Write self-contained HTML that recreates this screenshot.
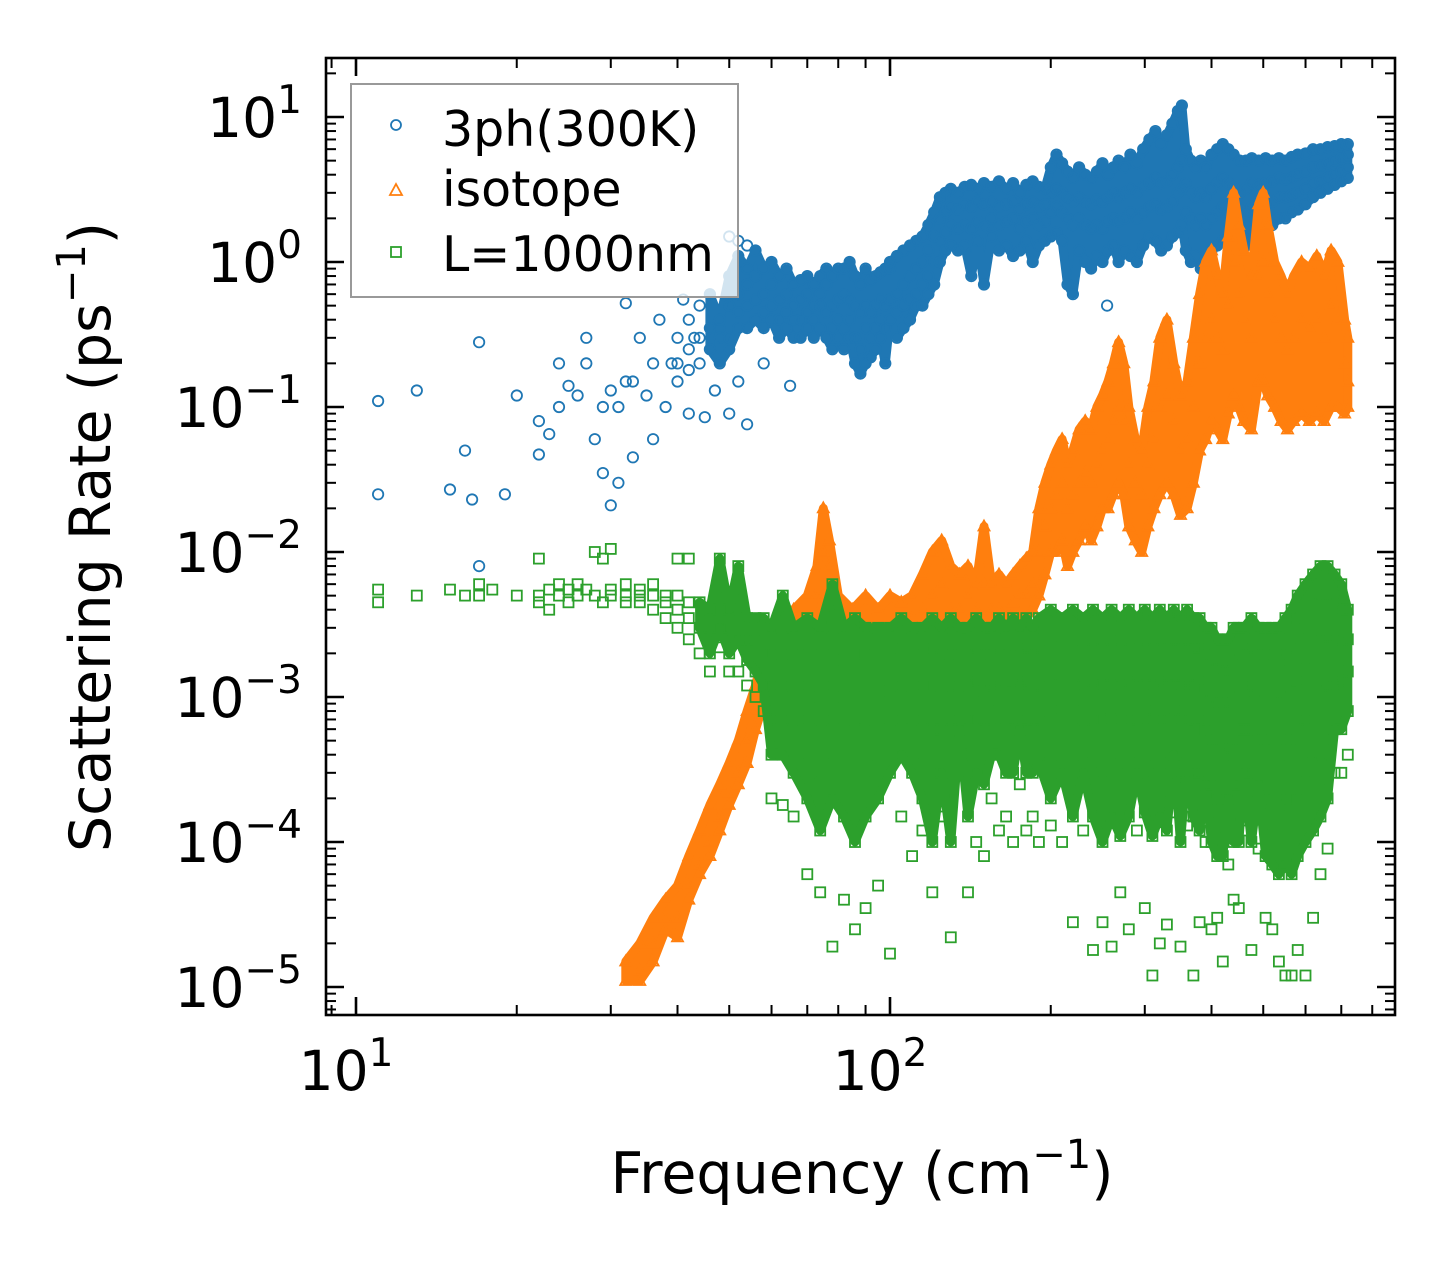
<!DOCTYPE html>
<html><head><meta charset="utf-8"><style>
html,body{margin:0;padding:0;background:#fff;}
svg{display:block;font-family:"DejaVu Sans","Liberation Sans",sans-serif;}
</style></head><body>
<svg id="chart" width="1455" height="1265" viewBox="0 0 1455 1265" xmlns="http://www.w3.org/2000/svg">
<rect x="0" y="0" width="1455" height="1265" fill="#fff"/>
<defs><clipPath id="plotclip"><rect x="326" y="58" width="1069" height="957"/></clipPath></defs>
<g id="marks" clip-path="url(#plotclip)"></g>
<g id="axes"></g>
<g id="legend">
<rect x="351" y="84" width="387" height="213" fill="#fff" fill-opacity="0.8" stroke="#999" stroke-width="2"/>
<circle cx="396" cy="125" r="5" fill="none" stroke="#1f77b4" stroke-width="1.8"/>
<text x="442" y="146" font-size="49" fill="#000">3ph(300K)</text>
<path d="M396,184 L402,195 L390,195 Z" fill="none" stroke="#ff7f0e" stroke-width="1.8"/>
<text x="442" y="206" font-size="49" fill="#000">isotope</text>
<rect x="391" y="247" width="10" height="10" fill="none" stroke="#2ca02c" stroke-width="1.8"/>
<text x="442" y="271" font-size="49" fill="#000">L=1000nm</text>
</g>
<text x="862" y="1193" font-size="57" text-anchor="middle">Frequency (cm<tspan font-size="40" dy="-25">−1</tspan><tspan dy="25">)</tspan></text>
<text transform="translate(110,537) rotate(-90)" font-size="57" text-anchor="middle">Scattering Rate (ps<tspan font-size="40" dy="-25">−1</tspan><tspan dy="25">)</tspan></text>
</svg>
<script>
const PL=326, PR=1395, PT=58, PB=1015;
const xDecPx=534, x10=356;
const yDecPx=145, y1=262;
function xs(f){return x10+(Math.log10(f)-1)*xDecPx;}
function ys(r){return y1-Math.log10(r)*yDecPx;}

const threePhSparse=[[11,0.11,0.025],[13,0.13],[15,0.027],[16,0.05],[16.5,0.023],[17,0.28,0.008],[19,0.025],[20,0.12],[22,0.08,0.047],[23,0.065],[24,0.2,0.1],[25,0.14],[26,0.12],[27,0.3,0.2],[28,0.06],[29,0.035,0.1],[30,0.13,0.021],[31,0.03,0.1],[32,0.52,0.15],[33,0.045,0.15],[34,0.3],[35,0.12],[36,0.06,0.2],[37,0.4],[38,0.1],[39,0.2],[41,0.55],[42,0.09],[43,0.3],[45,0.085],[47,0.13],[48,0.35],[50,0.09,1.5],[52,0.15,1.4],[54,0.076,1.3],[58,0.2],[65,0.14],[255,0.5]];
const threePhDense=[[40,.2,.3,.15],[42,.25,.4,.18],[44,.3,.2,.5],[46,.35,.25,.6],[48,.4,.3,.2],[50,.5,.3,.8,.25],[52,.45,.6,.35,1.1],[54,.5,.7,.35,.9],[56,.55,.4,.8,1.2],[58,.6,.45,.35,.9],[60,.5,.7,.4,1.0],[62,.55,.8,.4,.3],[64,.6,.45,.9,.35],[66,.5,.7,.4,.3],[68,.55,.75,.4,.3],[70,.45,.6,.35,.8],[72,.5,.7,.4,.3],[74,.5,.8,.35,.6],[76,.45,.7,.3,.9],[78,.5,.8,.35,.25],[80,.55,.9,.4,.3],[82,.6,.9,.35,.25],[84,.55,1.0,.4,.3],[86,.5,.8,.3,.2],[88,.45,.7,.25,.17],[90,.5,.9,.35,.2],[92,.45,.75,.3,.22],[94,.5,.8,.35,.25],[96,.55,.85,.4,.3],[98,.5,.9,.35,.2],[100,.55,.9,.4,1.0],[103,.6,1.1,.45,.3],[106,.7,1.2,.5,.35],[109,.8,1.3,.55,.4],[112,.9,1.4,.6,.5],[115,1.0,1.5,.7,.5],[118,1.2,1.8,.8,.6],[121,1.5,2.2,1.0,.7],[124,2.0,2.8,1.4,1.0],[127,2.2,3.0,1.6,1.2],[130,2.4,3.2,1.8,1.3],[134,2.3,3.0,1.7,1.2],[138,2.5,3.3,1.8,1.3],[142,2.4,3.4,1.7,0.8],[146,2.6,3.2,1.9,1.4],[150,2.5,3.5,1.8,0.7],[155,2.6,3.3,2.0,1.5],[160,2.4,3.6,1.8,1.2],[165,2.5,3.2,1.9,1.3],[170,2.6,3.5,2.0,1.1],[175,2.3,3.0,1.7,1.2],[180,2.5,3.4,1.9,1.4],[185,2.6,3.6,2.0,1.0],[190,2.4,3.3,1.8,1.3],[195,2.5,3.2,1.9,1.4],[200,3.0,4.5,2.2,1.5],[205,3.2,5.5,2.4,1.6],[210,3.0,4.8,2.2,1.4],[215,2.8,4.2,2.0,0.7],[220,2.6,3.8,1.8,0.6],[226,2.8,4.5,2.0,1.2],[232,2.6,4.0,1.8,1.0],[238,2.5,3.8,1.7,0.9],[244,2.7,4.2,1.8,1.1],[250,2.6,4.8,1.7,1.0],[256,2.8,4.0,1.9,1.2],[262,3.0,4.5,2.0,1.3],[268,2.8,5.0,1.9,1.0],[275,3.0,4.5,2.0,1.2],[282,3.2,5.5,2.2,1.1],[290,3.0,4.8,2.0,1.0],[298,3.3,6.0,2.2,1.3],[306,3.5,7.0,2.4,1.5],[314,3.8,8.0,2.5,1.4],[322,3.5,6.5,2.3,1.2],[330,3.6,7.5,2.4,1.3],[338,4.0,9.0,2.6,1.5],[346,4.5,11.0,3.0,1.6],[352,5.0,12.0,3.2,1.8],[358,3.5,6.0,2.2,1.2],[366,3.0,5.0,2.0,1.0],[374,2.8,4.5,1.8,1.1],[382,3.0,5.0,2.0,0.9],[390,2.8,4.5,1.8,1.0],[400,3.2,5.5,2.0,1.2],[410,3.5,6.0,2.2,1.3],[420,3.8,6.5,2.4,1.4],[430,3.5,6.0,2.2,1.3],[440,3.3,5.5,2.0,1.2],[452,3.0,5.0,2.0,1.1],[464,3.2,5.0,2.2,1.3],[476,3.5,5.2,2.4,1.5],[490,3.4,5.0,2.3,1.4],[505,3.5,5.2,2.5,1.6],[520,3.6,5.0,2.6,1.8],[535,3.8,5.2,2.8,2.0],[550,3.7,5.0,2.8,2.0],[565,3.8,5.3,2.9,2.2],[580,4.0,5.5,3.0,2.3],[600,4.2,5.6,3.2,2.5],[620,4.5,6.0,3.5,2.8],[640,4.6,6.0,3.6,3.0],[660,4.8,6.2,3.8,3.2],[680,5.0,6.3,4.0,3.4],[700,5.2,6.5,4.2,3.6],[720,5.5,6.5,4.5,3.8]];
const isotopeCols=[[32,1.1e-5,1.5e-5],[34,1.3e-5,2e-5,1.1e-5],[36,2e-5,1.5e-5,3e-5],[38,2.5e-5,4e-5,3e-5],[40,3e-5,5e-5,2.2e-5],[42,5e-5,8e-5,4e-5],[44,7e-5,1.2e-4,6e-5],[46,1e-4,1.8e-4,8e-5],[48,1.5e-4,2.5e-4,1.2e-4],[50,2.2e-4,3.5e-4,1.8e-4],[52,3e-4,5e-4,2.5e-4],[54,5e-4,8e-4,3.5e-4],[56,8e-4,1.2e-3,6e-4],[58,1.2e-3,2e-3,9e-4],[60,1.5e-3,2.5e-3,1e-3],[63,2e-3,3e-3,1.2e-3],[66,2.5e-3,4e-3,1.5e-3],[70,3e-3,5e-3,2e-3],[73,5e-3,8e-3,3e-3],[75,1e-2,2e-2,5e-3],[77,8e-3,1.2e-2,4e-3],[80,3e-3,5e-3,2e-3],[85,2.5e-3,4e-3,1.5e-3],[90,3e-3,5e-3,2e-3],[95,2.5e-3,4e-3,1.5e-3],[100,3e-3,5e-3,2e-3],[105,3e-3,4.5e-3,2e-3],[110,3.5e-3,5e-3,2e-3],[115,4e-3,7e-3,2.5e-3],[120,5e-3,1e-2,3e-3],[125,6e-3,1.2e-2,3e-3],[130,4e-3,8e-3,2.5e-3],[135,4e-3,7e-3,2.5e-3],[140,5e-3,8e-3,3e-3],[145,4e-3,6e-3,3e-3],[150,6e-3,1.5e-2,3.5e-3],[155,4e-3,6e-3,3e-3],[160,4e-3,7e-3,3e-3],[165,4e-3,6e-3,3e-3],[170,4.5e-3,7e-3,3e-3],[175,5e-3,8e-3,3e-3],[180,5e-3,9e-3,3.5e-3],[185,6e-3,1e-2,4e-3],[190,1e-2,2e-2,5e-3],[195,1.5e-2,3e-2,7e-3],[200,2e-2,4e-2,1e-2],[205,2.5e-2,5e-2,1e-2],[210,3e-2,6e-2,1.2e-2],[215,2e-2,4e-2,8e-3],[220,2.5e-2,5e-2,1e-2],[226,3e-2,7e-2,1.2e-2],[232,3.5e-2,8e-2,1.5e-2],[238,3e-2,7e-2,1.2e-2],[244,4e-2,1e-1,1.5e-2],[250,5e-2,1.2e-1,2e-2],[256,6e-2,1.5e-1,2e-2],[262,8e-2,2e-1,2.5e-2],[268,1e-1,2.8e-1,3e-2],[274,8e-2,2e-1,2.5e-2],[280,4e-2,1e-1,1.5e-2],[288,3e-2,6e-2,1.2e-2],[296,2.5e-2,5e-2,1e-2],[304,4e-2,1e-1,1.5e-2],[312,6e-2,1.5e-1,2e-2],[320,1e-1,3e-1,2.5e-2],[330,1.2e-1,4e-1,3e-2],[340,8e-2,2e-1,2.5e-2],[350,5e-2,1.2e-1,1.8e-2],[360,6e-2,1.5e-1,2e-2],[370,1e-1,3e-1,3e-2],[380,2e-1,6e-1,5e-2],[390,3e-1,1.0,6e-2],[400,4e-1,1.2,8e-2],[410,3e-1,8e-1,7e-2],[420,2.5e-1,6e-1,6e-2],[430,5e-1,1.5,9e-2],[440,1.0,3.0,1.2e-1],[450,6e-1,1.8,1e-1],[460,4e-1,1.2,8e-2],[475,3e-1,8e-1,7e-2],[490,8e-1,2.5,1.5e-1],[500,1.0,3.0,1.5e-1],[510,6e-1,1.8,1.2e-1],[525,4e-1,1.0,1e-1],[540,3e-1,8e-1,8e-2],[555,2.5e-1,6e-1,7e-2],[570,3e-1,8e-1,8e-2],[590,4e-1,1.0,9e-2],[610,3.5e-1,9e-1,8e-2],[630,4e-1,1.1,9e-2],[650,3e-1,8e-1,8e-2],[670,5e-1,1.2,1e-1],[690,4e-1,1.0,1e-1],[710,2e-1,4e-1,9e-2],[720,1.5e-1,3e-1,1e-1]];
const boundaryCols=[[11,5.5e-3,4.5e-3],[13,5e-3],[15,5.5e-3],[16,5e-3],[17,6e-3,5e-3],[18,5.5e-3],[20,5e-3],[22,9e-3,5e-3,4.5e-3],[23,5.5e-3,4e-3],[24,6e-3,5e-3],[25,5.5e-3,4.5e-3],[26,5e-3,6e-3],[27,5.5e-3],[28,1e-2,5e-3],[29,9e-3,4.5e-3],[30,1.05e-2,5.5e-3,5e-3],[32,5e-3,6e-3,4.5e-3],[34,5e-3,4.5e-3,5.5e-3],[36,5e-3,4e-3,6e-3],[38,5e-3,4.5e-3,3.5e-3],[40,9e-3,5e-3,4e-3,3e-3],[42,4.5e-3,3.5e-3,2.5e-3,9e-3],[44,4.5e-3,3e-3,2e-3],[46,4e-3,3e-3,2e-3,1.5e-3],[48,4e-3,3e-3,2.2e-3,9e-3],[50,4e-3,3e-3,2e-3,1.5e-3],[52,3.5e-3,2.5e-3,1.5e-3,8e-3],[54,3.5e-3,2.5e-3,1.8e-3,1.2e-3],[56,3.5e-3,2.5e-3,1.5e-3,1e-3],[58,3.5e-3,2e-3,1.2e-3,8e-4],[60,3e-3,2e-3,1.2e-3,7e-4,4e-4,2e-4],[63,3e-3,2e-3,1.2e-3,7e-4,4e-4,1.8e-4,5e-3],[66,3e-3,2e-3,1e-3,6e-4,3e-4,1.5e-4],[70,3.5e-3,2e-3,1.2e-3,7e-4,4e-4,6e-5,2e-4],[74,3e-3,2e-3,1e-3,6e-4,3e-4,1.2e-4,4.5e-5],[78,3e-3,2e-3,1.2e-3,7e-4,4e-4,2e-4,1.9e-5,6e-3],[82,3e-3,1.8e-3,1e-3,6e-4,3e-4,1.5e-4,4e-5],[86,3.5e-3,2e-3,1.2e-3,7e-4,4e-4,2.5e-5,1e-4],[90,3e-3,2e-3,1e-3,6e-4,3e-4,1.5e-4,3.5e-5],[95,3e-3,2e-3,1.2e-3,7e-4,4e-4,2e-4,5e-5],[100,3e-3,2e-3,1.1e-3,6e-4,3e-4,1.7e-5],[105,3.5e-3,2.2e-3,1.2e-3,7e-4,4e-4,1.5e-4],[110,3e-3,2e-3,1e-3,6e-4,3e-4,8e-5],[115,3e-3,2e-3,1.2e-3,7e-4,4e-4,2e-4,1.2e-4],[120,3.5e-3,2.2e-3,1.2e-3,6e-4,3e-4,1e-4,4.5e-5],[125,3e-3,2e-3,1e-3,6e-4,3e-4,1.5e-4],[130,3.5e-3,2e-3,1.2e-3,7e-4,2e-4,1e-4,2.2e-5],[135,3e-3,2e-3,1.1e-3,6e-4,3e-4],[140,3e-3,2e-3,1.2e-3,7e-4,4e-4,1.5e-4,4.5e-5],[145,3.5e-3,2.2e-3,1.3e-3,7e-4,3e-4,1e-4],[150,3e-3,2e-3,1.1e-3,6e-4,2.5e-4,8e-5],[155,3e-3,2e-3,1.2e-3,7e-4,4e-4,2e-4],[160,3.5e-3,2.2e-3,1.3e-3,8e-4,4e-4,1.2e-4],[165,3e-3,2e-3,1.1e-3,6e-4,3e-4,1.5e-4],[170,3.5e-3,2.3e-3,1.3e-3,7e-4,3e-4,1e-4],[175,3e-3,2e-3,1.2e-3,6e-4,2.5e-4],[180,3.5e-3,2.2e-3,1.3e-3,7e-4,3e-4,1.2e-4],[185,3e-3,2e-3,1.1e-3,6e-4,3e-4,1.5e-4],[190,3.5e-3,2.2e-3,1.2e-3,7e-4,3.5e-4,1e-4],[200,4e-3,2.5e-3,1.4e-3,8e-4,4e-4,2e-4,1.3e-4],[210,3.5e-3,2.2e-3,1.2e-3,7e-4,3e-4,1e-4],[220,4e-3,2.5e-3,1.4e-3,8e-4,4e-4,1.5e-4,2.8e-5],[230,3.5e-3,2.2e-3,1.2e-3,6e-4,3e-4,1.2e-4],[240,4e-3,2.5e-3,1.3e-3,7e-4,3.5e-4,1.5e-4,1.8e-5],[250,3.5e-3,2.2e-3,1.2e-3,7e-4,3e-4,1e-4,2.8e-5],[260,4e-3,2.5e-3,1.4e-3,8e-4,4e-4,1.5e-4,1.9e-5],[270,3.5e-3,2.2e-3,1.2e-3,7e-4,3e-4,1.1e-4,4.5e-5],[280,4e-3,2.5e-3,1.3e-3,7e-4,3.5e-4,1.5e-4,2.5e-5],[290,3.5e-3,2.2e-3,1.2e-3,6e-4,3e-4,1.2e-4],[300,4e-3,2.5e-3,1.4e-3,8e-4,4e-4,1.6e-4,3.5e-5],[310,3.5e-3,2.2e-3,1.2e-3,7e-4,3e-4,1.1e-4,1.2e-5],[320,4e-3,2.5e-3,1.3e-3,7e-4,3.5e-4,1.5e-4,2e-5],[330,3.5e-3,2.2e-3,1.2e-3,7e-4,3e-4,1.2e-4,2.7e-5],[340,4e-3,2.5e-3,1.4e-3,8e-4,4e-4,1.6e-4],[350,3.5e-3,2.2e-3,1.2e-3,7e-4,3e-4,1e-4,1.9e-5],[360,4e-3,2.5e-3,1.3e-3,7e-4,3.5e-4,1.3e-4],[370,3.5e-3,2.2e-3,1.2e-3,6e-4,3e-4,1.5e-4,1.2e-5],[380,3.5e-3,2.2e-3,1.3e-3,7e-4,3e-4,1.2e-4,2.8e-5],[390,3e-3,2e-3,1.1e-3,6e-4,2.5e-4,1e-4],[400,3e-3,1.8e-3,1e-3,5e-4,2.5e-4,1e-4,2.5e-5],[410,2.5e-3,1.6e-3,9e-4,5e-4,2e-4,8e-5,3e-5],[420,2.5e-3,1.5e-3,8e-4,4e-4,2e-4,8e-5,1.5e-5],[430,2.5e-3,1.5e-3,9e-4,4.5e-4,2e-4,7e-5],[440,3e-3,1.8e-3,1e-3,5e-4,2.5e-4,1e-4,4e-5],[450,3e-3,2e-3,1.1e-3,6e-4,2.5e-4,1e-4,3.5e-5],[460,3e-3,2e-3,1.1e-3,6e-4,3e-4,1.2e-4],[475,3.5e-3,2.2e-3,1.2e-3,6e-4,3e-4,1e-4,1.8e-5],[490,3e-3,2e-3,1.1e-3,5e-4,2.5e-4,9e-5],[505,3e-3,2e-3,1e-3,5e-4,2e-4,8e-5,3e-5],[520,3e-3,1.8e-3,1e-3,5e-4,2e-4,7e-5,2.5e-5],[535,3e-3,1.8e-3,9e-4,4e-4,1.8e-4,6e-5,1.5e-5],[550,3.5e-3,2e-3,1e-3,5e-4,2e-4,7e-5,1.2e-5],[565,4e-3,2.2e-3,1.1e-3,5e-4,2e-4,6e-5,1.2e-5],[580,5e-3,3e-3,1.3e-3,6e-4,2e-4,8e-5,1.8e-5],[600,6e-3,3.5e-3,1.6e-3,7e-4,3e-4,1e-4,1.2e-5],[620,7e-3,4.5e-3,2e-3,9e-4,3.5e-4,1.2e-4,3e-5],[640,8e-3,5e-3,2.5e-3,1.1e-3,4e-4,1.5e-4,6e-5],[660,8e-3,5e-3,2.6e-3,1.2e-3,5e-4,2e-4,9e-5],[680,7e-3,4.5e-3,2.5e-3,1.2e-3,6e-4,3e-4],[700,6e-3,4e-3,2.4e-3,1.3e-3,6e-4,3e-4],[720,4e-3,2.5e-3,1.5e-3,8e-4,4e-4]];

const xTickDecades=[1,2];
const yTickDecades=[1,0,-1,-2,-3,-4,-5];

const NS='http://www.w3.org/2000/svg';
const marks=document.getElementById('marks');
const axes=document.getElementById('axes');
function mk(tag,attrs,parent){const e=document.createElementNS(NS,tag);for(const k in attrs)e.setAttribute(k,attrs[k]);parent.appendChild(e);return e;}

// density band derived from column data; trimLo/trimHi drop extreme values at each end
function drawBand(cols,color,trimLo,trimHi,minF,name){
  const top=[],bot=[];
  cols.forEach(col=>{
    if(col[0]<minF)return;
    const v=col.slice(1).sort((a,b)=>a-b);
    const ok=v.length>trimLo+trimHi+1;
    const lo=ok?trimLo:0, hi=ok?trimHi:0;
    top.push([xs(col[0]),ys(v[v.length-1-hi])]);
    bot.push([xs(col[0]),ys(v[lo])]);
  });
  const pts=top.concat(bot.reverse()).map(p=>p[0].toFixed(1)+','+p[1].toFixed(1)).join(' ');
  const pg=mk('polygon',{points:pts,fill:color,stroke:color,'stroke-width':9,'stroke-linejoin':'round'},marks);
  
  
}
function drawCircle(f,r,g){
  const c=mk('circle',{cx:xs(f).toFixed(1),cy:ys(r).toFixed(1),r:5.2,fill:'none',stroke:'#1f77b4','stroke-width':1.8},g);
  
  
}
function drawTri(f,r,g){
  const x=xs(f),y=ys(r);
  const p=mk('path',{d:`M${x.toFixed(1)},${(y-6).toFixed(1)} L${(x+5.5).toFixed(1)},${(y+4).toFixed(1)} L${(x-5.5).toFixed(1)},${(y+4).toFixed(1)} Z`,fill:'none',stroke:'#ff7f0e','stroke-width':1.8},g);
  
  
}
function drawSq(f,r,g){
  const x=xs(f),y=ys(r);
  const p=mk('rect',{x:(x-5).toFixed(1),y:(y-5).toFixed(1),width:10,height:10,fill:'none',stroke:'#2ca02c','stroke-width':1.8},g);
  
  
}
function drawSeries(cols,fn,name){
  const g=mk('g',{},marks);
  
  
  cols.forEach(col=>{for(let i=1;i<col.length;i++)fn(col[0],col[i],g);});
}
drawBand(threePhDense,'#1f77b4',0,0,46,'band-3ph');
drawSeries(threePhSparse,drawCircle,'series-3ph-sparse');
drawSeries(threePhDense,drawCircle,'series-3ph');
drawBand(isotopeCols,'#ff7f0e',0,0,0,'band-isotope');
drawSeries(isotopeCols,drawTri,'series-isotope');
drawBand(boundaryCols,'#2ca02c',1,0,44,'band-boundary');
drawSeries(boundaryCols,drawSq,'series-boundary');

const fr=mk('rect',{x:PL,y:PT,width:PR-PL,height:PB-PT,fill:'none',stroke:'#000','stroke-width':2.6},axes);



for(let d=0;d<=2;d++){
  for(let m=1;m<=9;m++){
    const v=m*Math.pow(10,d);
    const x=xs(v);
    if(x<PL||x>PR)continue;
    const L=m===1?18:10;
    const t1=mk('line',{x1:x,x2:x,y1:PB,y2:PB-L,stroke:'#000','stroke-width':m===1?2.6:2},axes);
    
    
    const t2=mk('line',{x1:x,x2:x,y1:PT,y2:PT+L,stroke:'#000','stroke-width':m===1?2.6:2},axes);
    
    
  }
}
xTickDecades.forEach(d=>{
  const t=mk('text',{x:xs(Math.pow(10,d))-10,y:1090,'font-size':55,'text-anchor':'middle'},axes);
  
  
  t.innerHTML='10<tspan font-size="39" dy="-24">'+d+'</tspan>';
});
for(let d=-6;d<=1;d++){
  for(let m=1;m<=9;m++){
    const v=m*Math.pow(10,d);
    const y=ys(v);
    if(y<PT||y>PB)continue;
    const L=m===1?18:10;
    const t1=mk('line',{x1:PL,x2:PL+L,y1:y,y2:y,stroke:'#000','stroke-width':m===1?2.6:2},axes);
    
    
    const t2=mk('line',{x1:PR,x2:PR-L,y1:y,y2:y,stroke:'#000','stroke-width':m===1?2.6:2},axes);
    
    
  }
}
yTickDecades.forEach(d=>{
  const t=mk('text',{x:302,y:ys(Math.pow(10,d))+20,'font-size':55,'text-anchor':'end'},axes);
  
  
  t.innerHTML='10<tspan font-size="39" dy="-24">'+(d<0?'−'+(-d):d)+'</tspan>';
});
</script>
</body></html>
